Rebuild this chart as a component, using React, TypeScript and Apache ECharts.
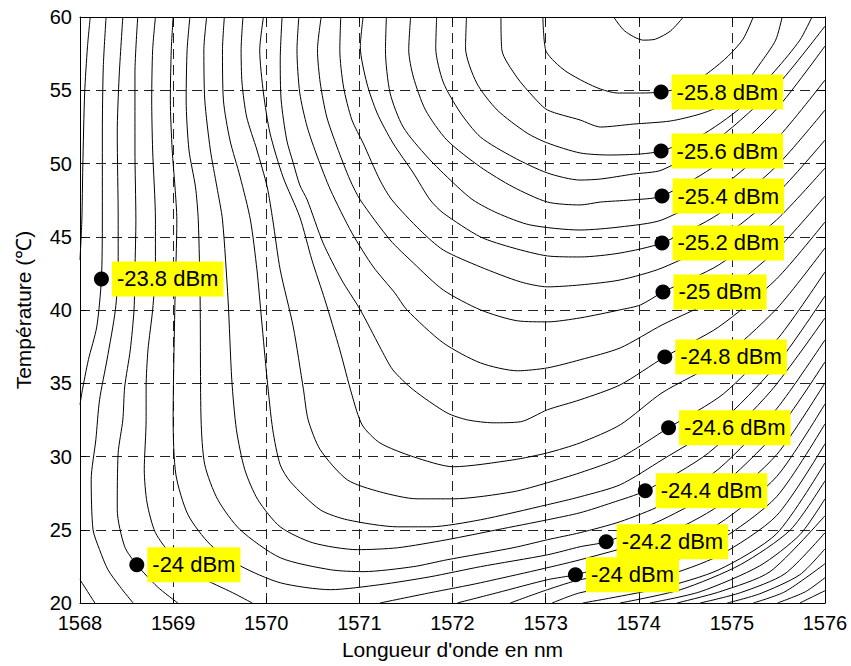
import React, { useEffect, useRef } from "react";
import * as echarts from "echarts";

// Axis ranges
const xMin = 1568, xMax = 1576, xStep = 1;
const yMin = 20, yMax = 60, yStep = 5;

// Contour lines (wavelength nm, temperature °C), one array per traced segment
const c259 = [[1573.73,60],[1573.85,59.04],[1574.05,58.42],[1574.18,58.49],[1574.34,59.04],[1574.48,60]];
const c258 = [[1572.97,60],[1573.0,57.74],[1573.1,56.92],[1573.23,56.24],[1573.42,55.56],[1573.59,55.08],[1573.77,54.81],[1574.02,54.81],[1574.24,54.88],[1574.53,55.29],[1574.77,56.31],[1574.96,57.33],[1575.12,58.49],[1575.23,60]];
const c257 = [[1572.52,60],[1572.53,57.74],[1572.69,55.9],[1572.87,54.54],[1573.02,53.65],[1573.37,52.97],[1573.59,52.49],[1573.94,52.69],[1574.34,52.9],[1574.66,53.38],[1574.87,53.92],[1575.09,55.01],[1575.3,56.79],[1575.47,58.42],[1575.54,60]];
const c256 = [[1572.15,60],[1572.14,57.88],[1572.26,55.49],[1572.48,53.65],[1572.8,52.08],[1573.02,51.4],[1573.37,50.72],[1573.69,50.58],[1574.02,50.65],[1574.24,50.85],[1574.66,51.88],[1575.09,53.79],[1575.47,56.38],[1575.73,58.42],[1575.86,60]];
const c255 = [[1571.83,60],[1571.82,57.88],[1571.9,55.56],[1572.08,53.51],[1572.3,51.81],[1572.65,50.44],[1573.02,49.35],[1573.37,48.87],[1573.59,48.94],[1573.94,49.28],[1574.25,49.56],[1574.86,51.74],[1575.48,55.29],[1576,59.38]];
const c254 = [[1571.55,60],[1571.53,57.74],[1571.58,55.9],[1571.71,53.65],[1571.94,51.6],[1572.3,49.76],[1572.65,48.4],[1573.02,47.37],[1573.37,47.17],[1573.59,47.37],[1573.91,47.51],[1574.25,47.78],[1574.86,50.03],[1575.48,53.72],[1576,58.02]];
const c253 = [[1571.29,60],[1571.28,57.74],[1571.33,54.81],[1571.47,52.49],[1571.73,50.44],[1572.01,48.67],[1572.22,47.51],[1572.48,46.62],[1572.83,45.81],[1573.37,45.46],[1573.8,45.67],[1574.25,46.15],[1574.86,48.26],[1575.48,51.67],[1576,55.7]];
const c252 = [[1571.04,60],[1571.01,57.95],[1571.08,55.49],[1571.19,53.45],[1571.36,51.4],[1571.58,49.35],[1571.76,47.51],[1571.9,46.62],[1572.3,44.99],[1572.65,44.24],[1573.02,43.69],[1573.37,43.62],[1573.8,43.89],[1574.25,44.58],[1574.86,46.56],[1575.48,49.83],[1576,53.65]];
const c251 = [[1570.8,60],[1570.79,57.74],[1570.83,55.22],[1570.92,52.97],[1571.04,51.4],[1571.22,48.87],[1571.35,47.51],[1571.65,45.46],[1571.9,44.1],[1572.3,42.94],[1572.73,41.92],[1573.02,41.58],[1573.37,41.71],[1573.8,42.05],[1574.25,42.87],[1574.86,44.78],[1575.48,47.92],[1576,51.6]];
const c250 = [[1570.59,60],[1570.55,57.74],[1570.58,55.49],[1570.65,53.17],[1570.76,51.13],[1570.9,48.87],[1571.01,47.51],[1571.33,44.78],[1571.58,43.21],[1571.9,41.37],[1572.3,40.01],[1572.7,39.26],[1573.02,39.19],[1573.37,39.46],[1573.8,40.01],[1574.02,40.35],[1574.26,41.23],[1574.86,43.08],[1575.48,46.15],[1576,49.69]];
const c249 = [[1570.35,60],[1570.33,57.74],[1570.36,54.81],[1570.44,52.49],[1570.55,50.44],[1570.69,48.19],[1570.92,45.26],[1571.15,42.94],[1571.38,41.17],[1571.51,40.01],[1571.9,37.76],[1572.3,36.39],[1572.7,35.85],[1573.02,36.05],[1573.37,36.6],[1573.8,37.41],[1574.25,38.98],[1574.86,40.89],[1575.48,44.1],[1576,47.78]];
const c248 = [[1570.17,60],[1570.15,57.06],[1570.16,54.33],[1570.22,51.6],[1570.29,50.03],[1570.36,48.53],[1570.44,47.51],[1570.61,44.58],[1570.81,42.05],[1571.01,40.01],[1571.22,37.48],[1571.36,35.91],[1571.58,34.55],[1571.94,32.98],[1572.16,32.5],[1572.44,32.3],[1572.73,32.37],[1573.02,33.19],[1573.37,33.87],[1573.8,34.89],[1574.28,36.8],[1574.86,38.85],[1575.48,42.12],[1576,46.01]];
const c247 = [[1569.97,60],[1569.93,57.74],[1569.97,54.81],[1570.04,52.08],[1570.18,49.08],[1570.36,46.35],[1570.49,43.42],[1570.63,40.69],[1570.79,37.28],[1570.92,34.21],[1571.03,32.16],[1571.22,30.93],[1571.58,29.98],[1572.01,29.3],[1572.65,29.77],[1573.02,30.25],[1573.37,30.93],[1573.8,32.16],[1574.25,34.35],[1574.86,36.53],[1575.48,40.08],[1576,44.24]];
const c246 = [[1569.75,60],[1569.73,57.74],[1569.74,55.49],[1569.79,53.17],[1569.9,50.92],[1570.01,48.4],[1570.07,46.15],[1570.15,42.74],[1570.29,38.85],[1570.4,34.55],[1570.45,32.5],[1570.58,30.46],[1570.87,28.41],[1571.22,27.59],[1571.62,27.11],[1572.01,27.11],[1572.65,27.59],[1573.02,28.21],[1573.37,28.89],[1573.8,29.91],[1574.32,31.96],[1574.91,34.28],[1575.5,38.1],[1576,42.6]];
const c245 = [[1569.55,60],[1569.53,57.74],[1569.54,54.33],[1569.61,51.6],[1569.72,49.08],[1569.83,46.15],[1569.9,42.74],[1569.95,39.32],[1570.01,35.23],[1570.07,31.82],[1570.15,29.43],[1570.26,28.27],[1570.58,26.36],[1570.87,25.68],[1571.41,25.2],[1571.76,25.2],[1572.3,25.68],[1573.02,26.71],[1573.37,27.25],[1573.8,28.07],[1574.25,29.77],[1574.86,32.23],[1575.48,36.26],[1576,40.96]];
const c244 = [[1569.36,60],[1569.33,57.74],[1569.34,54.33],[1569.4,50.92],[1569.47,48.4],[1569.53,46.15],[1569.59,40.69],[1569.63,35.23],[1569.68,31.82],[1569.77,29.09],[1569.91,27.05],[1570.15,25.2],[1570.5,24.11],[1570.98,23.64],[1571.41,23.77],[1571.94,24.32],[1572.48,25.0],[1573.02,25.68],[1573.37,26.16],[1573.71,26.84],[1574.07,27.66],[1574.75,30.25],[1575.42,34.48],[1576,39.46]];
const c243 = [[1569.18,60],[1569.15,57.74],[1569.14,54.33],[1569.17,50.92],[1569.24,48.4],[1569.27,46.15],[1569.29,40.69],[1569.3,32.5],[1569.34,29.43],[1569.48,27.05],[1569.72,25.0],[1570.15,23.09],[1570.69,22.27],[1571.04,22.14],[1571.58,22.48],[1571.94,22.95],[1572.65,23.77],[1573.02,24.32],[1573.37,24.8],[1573.8,25.55],[1574.25,26.71],[1574.86,29.16],[1575.48,33.25],[1576,37.96]];
const c242 = [[1569.0,60],[1568.98,57.74],[1568.97,54.33],[1568.99,50.92],[1569.02,48.4],[1569.04,46.15],[1569.02,40.69],[1569.0,32.5],[1569.03,28.75],[1569.16,26.02],[1569.4,23.98],[1569.72,22.54],[1570.15,21.38],[1570.69,20.91],[1571.22,21.25],[1571.76,21.79],[1572.3,22.48],[1573.02,23.29],[1573.37,23.84],[1573.65,24.18],[1574.25,25.68],[1574.86,27.87],[1575.48,31.68],[1576,36.46]];
const c241a = [[1568.81,60],[1568.78,57.74],[1568.77,54.33],[1568.78,50.92],[1568.81,46.15],[1568.81,42.94],[1568.78,40.01],[1568.73,37.28],[1568.71,34.75],[1568.71,32.5],[1568.69,29.09],[1568.72,26.84],[1568.81,24.8],[1569.0,23.16],[1569.29,21.79],[1569.64,20.7],[1569.85,20]];
const c241b = [[1571.22,20],[1571.76,20.7],[1572.3,21.38],[1573.37,22.95],[1574.25,24.59],[1574.86,26.64],[1575.48,30.12],[1576,35.03]];
const c240a = [[1568.62,60],[1568.59,56.17],[1568.59,50.92],[1568.6,46.15],[1568.59,42.74],[1568.58,40.01],[1568.54,37.28],[1568.48,34.75],[1568.46,32.5],[1568.41,30.25],[1568.4,26.36],[1568.48,23.84],[1568.61,22.61],[1568.83,21.11],[1569.05,20]];
const c240b = [[1572.05,20],[1572.48,20.7],[1573.02,21.59],[1573.32,21.93],[1574.25,23.5],[1574.86,25.41],[1575.48,28.62],[1576,33.59]];
const c239a = [[1568.46,60],[1568.42,55.9],[1568.4,52.08],[1568.41,46.15],[1568.41,42.94],[1568.38,40.01],[1568.29,36.6],[1568.21,33.87],[1568.17,31.14],[1568.12,28.41],[1568.14,25.0],[1568.21,23.64],[1568.3,22.27],[1568.43,21.11],[1568.57,20]];
const c239b = [[1572.62,20],[1573.02,20.91],[1573.37,21.59],[1574.25,22.61],[1574.86,24.25],[1575.48,27.25],[1576,32.23]];
const c238a = [[1568.28,60],[1568.25,56.58],[1568.24,52.08],[1568.24,46.15],[1568.23,42.12],[1568.18,38.85],[1568.09,36.6],[1568.02,34.35],[1568.0,33.53]];
const c238b = [[1568.0,21.59],[1568.16,20]];
const c238c = [[1573.07,20],[1573.37,20.7],[1574.25,21.79],[1574.86,23.23],[1575.48,25.96],[1576,30.87]];
const c237a = [[1568.11,60],[1568.08,57.95],[1568.05,54.81],[1568.03,49.76],[1568.02,46.15],[1568.0,43.42]];
const c237b = [[1573.4,20],[1574.25,21.04],[1574.86,22.27],[1575.48,24.73],[1576,29.57]];
const c236 = [[1573.8,20],[1574.45,20.91],[1575.09,22.61],[1575.63,25.0],[1576,28.34]];
const c235 = [[1574.12,20],[1574.66,20.77],[1575.3,22.54],[1575.73,24.66],[1576,27.11]];
const c234 = [[1574.41,20],[1574.87,20.77],[1575.41,22.14],[1576,25.96]];
const c233 = [[1574.66,20],[1575.09,20.7],[1575.57,22.0],[1576,24.8]];
const c232 = [[1574.95,20],[1575.3,20.63],[1575.73,21.93],[1576,23.7]];
const c231 = [[1575.23,20],[1575.57,20.77],[1576,22.68]];
const c230 = [[1575.49,20],[1575.79,20.77],[1576,21.73]];
const c229 = [[1575.73,20],[1576,20.84]];

const segments = [c259, c258, c257, c256, c255, c254, c253, c252, c251, c250, c249, c248, c247, c246, c245, c244, c243, c242, c241a, c241b, c240a, c240b, c239a, c239b, c238a, c238b, c238c, c237a, c237b, c236, c235, c234, c233, c232, c231, c230, c229];

// Labelled points
const labelTexts = ["-25.8 dBm", "-25.6 dBm", "-25.4 dBm", "-25.2 dBm", "-25 dBm", "-24.8 dBm", "-24.6 dBm", "-24.4 dBm", "-24.2 dBm", "-24 dBm", "-24 dBm", "-23.8 dBm"];
const labelPoints = [[1574.24,54.88],[1574.24,50.85],[1574.25,47.78],[1574.25,44.58],[1574.26,41.23],[1574.28,36.8],[1574.32,31.96],[1574.07,27.66],[1573.65,24.18],[1573.32,21.93],[1568.61,22.61],[1568.23,42.12]];

const FONT = "'Liberation Sans', Arial, Helvetica, sans-serif";

export default function App() {
  const ref = useRef<HTMLDivElement>(null);
  useEffect(() => {
    document.body.style.margin = "0";
    if (!ref.current) return;
    const chart = echarts.init(ref.current, undefined, { renderer: "svg" });
    const axisCommon = {
      type: "value" as const,
      axisLine: { show: true, onZero: false, lineStyle: { color: "#000", width: 1 } },
      axisTick: { show: true, inside: true, length: 6, lineStyle: { color: "#000" } },
    };
    const lineSeries = segments.map((pts) => ({
      type: "line",
      data: pts,
      symbol: "none",
      smooth: 0.25,
      silent: true,
      clip: true,
      z: 2,
      lineStyle: { color: "#000", width: 1 },
    }));
    chart.setOption({
      animation: false,
      grid: { left: 80, right: 26, top: 17, bottom: 63, show: false },
      xAxis: [
        {
          ...axisCommon,
          position: "bottom",
          min: xMin, max: xMax, interval: xStep,
          name: "Longueur d'onde en nm",
          nameLocation: "middle",
          nameGap: 36,
          nameTextStyle: { fontSize: 21, color: "#000", fontFamily: FONT },
          axisLabel: { fontSize: 20, color: "#000", margin: 10, fontFamily: FONT, formatter: (v: number) => String(v) },
          splitLine: { show: true, lineStyle: { color: "#222", width: 1, type: [10, 6] } },
        },
        {
          ...axisCommon,
          position: "top",
          min: xMin, max: xMax, interval: xStep,
          axisLabel: { show: false },
          splitLine: { show: false },
        },
      ],
      yAxis: [
        {
          ...axisCommon,
          position: "left",
          min: yMin, max: yMax, interval: yStep,
          name: "Température (℃)",
          nameLocation: "middle",
          nameGap: 46,
          nameTextStyle: { fontSize: 21, color: "#000", fontFamily: FONT },
          axisLabel: { fontSize: 20, color: "#000", margin: 8, fontFamily: FONT, formatter: (v: number) => String(v) },
          splitLine: { show: true, lineStyle: { color: "#222", width: 1, type: [10, 6] } },
        },
        {
          ...axisCommon,
          position: "right",
          min: yMin, max: yMax, interval: yStep,
          axisLabel: { show: false },
          splitLine: { show: false },
        },
      ],
      series: [
        ...lineSeries,
        {
          type: "scatter",
          data: labelPoints,
          symbol: "circle",
          symbolSize: 15,
          z: 10,
          itemStyle: { color: "#000", opacity: 1 },
          emphasis: { disabled: true },
          label: {
            show: true,
            position: "right",
            distance: 3,
            formatter: (p: any) => labelTexts[p.dataIndex],
            backgroundColor: "#ffff00",
            opacity: 1,
            padding: [6, 5, 6, 5],
            fontSize: 22,
            lineHeight: 23,
            color: "#000",
            fontFamily: FONT,
          },
        },
      ],
    });
    return () => chart.dispose();
  }, []);
  return <div ref={ref} style={{ width: 851, height: 666 }} />;
}
